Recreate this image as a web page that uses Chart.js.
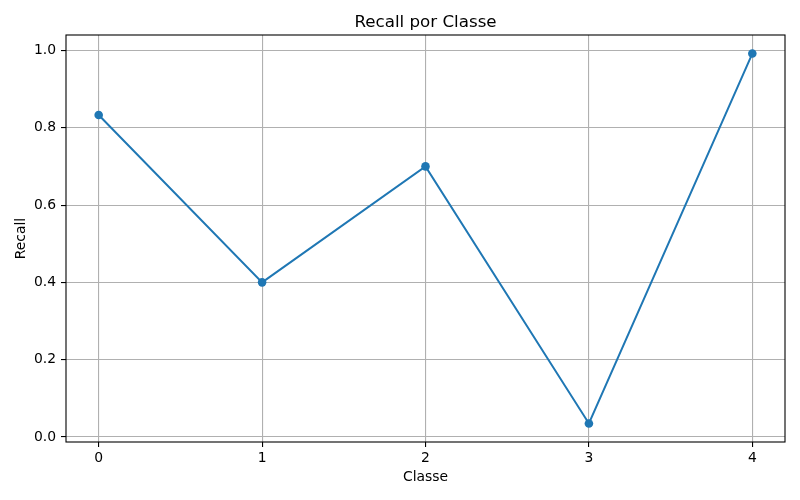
<!DOCTYPE html>
<html>
<head>
<meta charset="utf-8">
<script src="https://cdn.jsdelivr.net/npm/chart.js@4.4.0/dist/chart.umd.min.js"></script>
<style>
html,body{margin:0;padding:0;background:#fff;}
#wrap{width:800px;height:500px;}
</style>
</head>
<body>
<div id="wrap"><canvas id="c" width="800" height="500"></canvas></div>
<script>
const classes = [0, 1, 2, 3, 4];
const recall = [0.833, 0.400, 0.700, 0.035, 0.992];
const yTicks = [0.0, 0.2, 0.4, 0.6, 0.8, 1.0];
const xTicks = [0, 1, 2, 3, 4];
const chartTitle = 'Recall por Classe';

const FONT = "'DejaVu Sans', sans-serif";

const framePlugin = {
  id: 'frame',
  afterDraw(chart) {
    const {ctx, chartArea: a} = chart;
    ctx.save();
    ctx.strokeStyle = '#000';
    ctx.lineWidth = 1.1;
    ctx.strokeRect(a.left, a.top, a.right - a.left, a.bottom - a.top);
    // axes-centred title (matplotlib style)
    ctx.fillStyle = '#000';
    ctx.font = "16.7px " + FONT;
    ctx.textAlign = 'center';
    ctx.textBaseline = 'alphabetic';
    ctx.fillText(chartTitle, (a.left + a.right) / 2, 27);
    ctx.restore();
  }
};

new Chart(document.getElementById('c'), {
  type: 'line',
  data: {
    datasets: [{
      data: classes.map((c, i) => ({x: c, y: recall[i]})),
      borderColor: '#1f77b4',
      backgroundColor: '#1f77b4',
      borderWidth: 2,
      pointRadius: 4.3,
      pointHoverRadius: 4.3,
      pointBorderWidth: 0,
      tension: 0,
      fill: false
    }]
  },
  options: {
    responsive: false,
    animation: false,
    devicePixelRatio: 1,
    layout: {padding: {left: 0, right: 15, top: 35, bottom: 0}},
    plugins: {
      legend: {display: false},
      tooltip: {enabled: false},
      title: {display: false}
    },
    scales: {
      x: {
        type: 'linear',
        min: -0.2,
        max: 4.2,
        afterBuildTicks: s => { s.ticks = xTicks.map(v => ({value: v})); },
        afterFit: s => { s.height = 58; },
        grid: {color: '#b0b0b0', lineWidth: 1.1, drawTicks: true, tickLength: 5, tickColor: '#000'},
        border: {display: false},
        ticks: {color: '#000', font: {family: FONT, size: 13.9}, padding: 3, maxRotation: 0,
                callback: v => String(v)},
        title: {display: true, text: 'Classe', color: '#000',
                font: {family: FONT, size: 13.9}, padding: {top: 0, bottom: 14.6}}
      },
      y: {
        type: 'linear',
        min: -0.013,
        max: 1.04,
        afterBuildTicks: s => { s.ticks = yTicks.map(v => ({value: v})); },
        afterFit: s => { s.width = 66; },
        grid: {color: '#b0b0b0', lineWidth: 1.1, drawTicks: true, tickLength: 5, tickColor: '#000'},
        border: {display: false},
        ticks: {color: '#000', font: {family: FONT, size: 13.9}, padding: 5,
                callback: v => Number(v).toFixed(1)},
        title: {display: true, text: 'Recall', color: '#000',
                font: {family: FONT, size: 13.9}, padding: {top: 12.6, bottom: 0}}
      }
    }
  },
  plugins: [framePlugin]
});
</script>
</body>
</html>
